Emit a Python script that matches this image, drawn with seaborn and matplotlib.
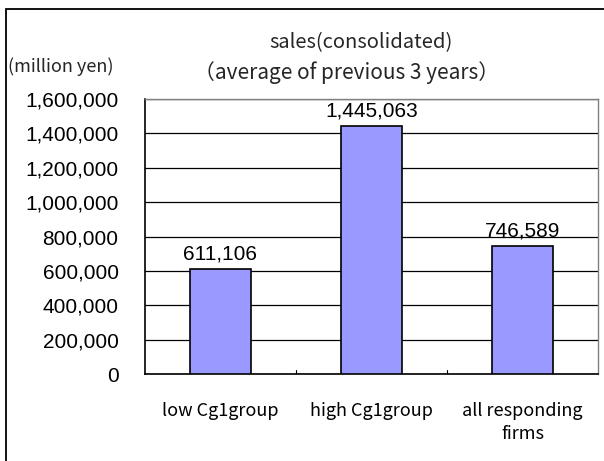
import matplotlib
matplotlib.use("Agg")
import matplotlib.pyplot as plt
import seaborn as sns
import pandas as pd
from matplotlib.patches import Rectangle
from matplotlib.ticker import FuncFormatter

categories = ["low Cg1group", "high Cg1group", "all responding\nfirms"]
values = [611106, 1445063, 746589]
yticks = [0, 200000, 400000, 600000, 800000, 1000000, 1200000, 1400000, 1600000]

sns.set_theme(style="white")
plt.rcParams['font.family'] = ['Liberation Sans', 'DejaVu Sans']
CJK = ['Noto Sans CJK JP', 'DejaVu Sans']

df = pd.DataFrame({"cat": categories, "val": values})

fig = plt.figure(figsize=(6.04, 4.61), dpi=100)
W, H = 604, 461
ax = fig.add_axes([145 / W, 1 - 374 / H, (598 - 145) / W, (374 - 99) / H])

sns.barplot(data=df, x="cat", y="val", ax=ax, color="#9999FF", width=0.4,
            edgecolor="black", linewidth=1.2, saturation=1, zorder=3)

ax.set_ylim(0, 1600000)
ax.set_xlim(-0.5, 2.5)
ax.set_yticks(yticks)
ax.yaxis.set_major_formatter(FuncFormatter(lambda v, p: f"{int(v):,}"))
ax.tick_params(axis="y", labelsize=15, length=0, pad=19, labelcolor="black")
ax.set_xlabel("")
ax.set_ylabel("")
ax.set_xticks([0, 1, 2])
ax.set_xticklabels(categories, fontsize=13, family=CJK, linespacing=1.35)
ax.tick_params(axis="x", length=0, pad=20, labelcolor="black")
for xb in [0.5, 1.5]:
    ax.plot([xb, xb], [0, 25000], color="black", lw=0.8, zorder=4)

ax.grid(axis="y", color="black", linewidth=0.9, zorder=0)
ax.set_axisbelow(True)
for s in ["top", "right"]:
    ax.spines[s].set_color("#808080")
    ax.spines[s].set_linewidth(1.0)
for s in ["left", "bottom"]:
    ax.spines[s].set_color("black")
    ax.spines[s].set_linewidth(1.2)

for i, v in enumerate(values):
    ax.text(i, v + 30000, f"{v:,}", ha="center", va="bottom", fontsize=15, color="black")

fig.text(361 / W, 1 - 43 / H, "sales(consolidated)", ha="center", va="center",
         fontsize=14.5, family=CJK)
fig.text(347 / W, 1 - 73 / H, "（average of previous 3 years）", ha="center", va="center",
         fontsize=15, family=CJK)
fig.text(8 / W, 1 - 67 / H, "(million yen)", ha="left", va="center", fontsize=13,
         family=CJK)

fig.patches.append(Rectangle((5.5 / W, -0.1), 1.2, 1 - 9.5 / H + 0.1, transform=fig.transFigure,
                             fill=False, edgecolor="black", linewidth=1.3, figure=fig))

fig.savefig("out.png", dpi=100)
